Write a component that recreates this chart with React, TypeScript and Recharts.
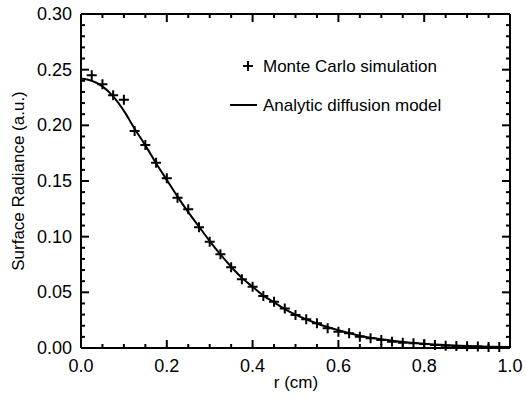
import React from "react";
import {
  ComposedChart,
  Line,
  Scatter,
  XAxis,
  YAxis,
  Legend,
} from "recharts";

// Monte Carlo points (r in cm, radiance in a.u.)
const mcR = [
  0.025, 0.05, 0.075, 0.1, 0.125, 0.15, 0.175, 0.2, 0.225, 0.25, 0.275, 0.3,
  0.325, 0.35, 0.375, 0.4, 0.425, 0.45, 0.475, 0.5, 0.525, 0.55, 0.575, 0.6,
  0.625, 0.65, 0.675, 0.7, 0.725, 0.75, 0.775, 0.8, 0.825, 0.85, 0.875, 0.9,
  0.925, 0.95, 0.975,
];
const mcVal = [
  0.245, 0.237, 0.227, 0.223, 0.195, 0.1824, 0.1665, 0.1525, 0.135, 0.1246,
  0.1084, 0.0955, 0.0842, 0.0725, 0.0617, 0.0551, 0.0467, 0.0416, 0.0355,
  0.0296, 0.0258, 0.0222, 0.0177, 0.0146, 0.0132, 0.0102, 0.0087, 0.0072,
  0.0057, 0.0048, 0.0042, 0.0036, 0.0027, 0.002, 0.0018, 0.0015, 0.0013,
  0.001, 0.001,
];

// analytic diffusion model curve
const modelR = [
  0, 0.025, 0.05, 0.075, 0.1, 0.125, 0.15, 0.175, 0.2, 0.225, 0.25, 0.275,
  0.3, 0.325, 0.35, 0.375, 0.4, 0.425, 0.45, 0.475, 0.5, 0.55, 0.6, 0.65, 0.7,
  0.75, 0.8, 0.85, 0.9, 0.95, 1.0,
];
const modelVal = [
  0.242, 0.24, 0.235, 0.226, 0.213, 0.197, 0.182, 0.166, 0.151, 0.136, 0.122,
  0.109, 0.096, 0.084, 0.073, 0.063, 0.055, 0.047, 0.041, 0.035, 0.03, 0.022,
  0.016, 0.011, 0.0078, 0.0055, 0.0038, 0.0026, 0.0018, 0.0012, 0.0008,
];

const xTicks = Array.from({ length: 21 }, (_, i) => +(i * 0.05).toFixed(2));
const yTicks = Array.from({ length: 31 }, (_, i) => +(i * 0.01).toFixed(2));

const mcData = mcR.map((r, i) => ({ r, v: mcVal[i] }));
const modelData = modelR.map((r, i) => ({ r, m: modelVal[i] }));

const isMult = (v: number, step: number) =>
  Math.abs(v / step - Math.round(v / step)) < 1e-6;

// inward tick marks on all four sides, placed through the chart scales
const tickData = [
  ...yTicks.map((v) => ({ r: 0, v, side: "l", major: isMult(v, 0.05) })),
  ...yTicks.map((v) => ({ r: 1, v, side: "r", major: isMult(v, 0.05) })),
  ...xTicks.map((r) => ({ r, v: 0, side: "b", major: isMult(r, 0.2) })),
  ...xTicks.map((r) => ({ r, v: 0.3, side: "t", major: isMult(r, 0.2) })),
];

const W = 526;
const H = 403;
const PL = 81;
const PR = 510;
const PT = 14;
const PB = 348;
const FONT = "'Liberation Sans', Arial, sans-serif";

const YTick = (props: any) => {
  const { y, payload } = props;
  if (!isMult(payload.value, 0.05)) return <g />;
  return (
    <text x={72} y={y} textAnchor="end" dominantBaseline="central" fontSize={18} fontFamily={FONT} fill="#000">
      {payload.value.toFixed(2)}
    </text>
  );
};

const XTick = (props: any) => {
  const { x, payload } = props;
  if (!isMult(payload.value, 0.2)) return <g />;
  return (
    <text x={x} y={366} textAnchor="middle" dominantBaseline="central" fontSize={18} fontFamily={FONT} fill="#000">
      {payload.value.toFixed(1)}
    </text>
  );
};

const TickShape = (props: any) => {
  const { cx, cy, payload } = props;
  if (cx == null || cy == null || !payload) return null;
  const len = payload.major ? 8 : 4;
  let d = "";
  if (payload.side === "l") d = `M${cx},${cy}H${cx + len}`;
  else if (payload.side === "r") d = `M${cx},${cy}H${cx - len}`;
  else if (payload.side === "b") d = `M${cx},${cy}V${cy - len}`;
  else d = `M${cx},${cy}V${cy + len}`;
  return <path d={d} stroke="#000" strokeWidth={2} fill="none" />;
};

const Plus = (props: any) => {
  const { cx, cy } = props;
  if (cx == null || cy == null) return null;
  return (
    <path
      d={`M${cx - 5},${cy}H${cx + 5}M${cx},${cy - 5}V${cy + 5}`}
      stroke="#000"
      strokeWidth={2}
      fill="none"
    />
  );
};

const YLabel = () => (
  <text
    x={18}
    y={181}
    transform="rotate(-90, 18, 181)"
    textAnchor="middle"
    dominantBaseline="central"
    fontSize={17}
    fontFamily={FONT}
    fill="#000"
  >
    Surface Radiance (a.u.)
  </text>
);

const XLabel = () => (
  <text x={296} y={382} textAnchor="middle" dominantBaseline="central" fontSize={17} fontFamily={FONT} fill="#000">
    r (cm)
  </text>
);

const LegendBox = () => (
  <svg width={300} height={70} style={{ display: "block" }}>
    <path d="M15,16H25M20,11V21" stroke="#000" strokeWidth={2} />
    <text x={35} y={16} dominantBaseline="central" fontSize={17} fontFamily={FONT} fill="#000">
      Monte Carlo simulation
    </text>
    <line x1={2} x2={29} y1={55} y2={55} stroke="#000" strokeWidth={2} />
    <text x={35} y={55} dominantBaseline="central" fontSize={17} fontFamily={FONT} fill="#000">
      Analytic diffusion model
    </text>
  </svg>
);

const frame = { stroke: "#000", strokeWidth: 2 };

export default function App() {
  return (
    <div style={{ position: "absolute", left: 0, top: 0, background: "#fff" }}>
      <ComposedChart width={W} height={H} margin={{ top: 0, right: 0, bottom: 0, left: 0 }}>
        <XAxis
          xAxisId="b"
          dataKey="r"
          type="number"
          domain={[0, 1]}
          ticks={xTicks}
          interval={0}
          height={H - PB}
          tickSize={0}
          tickLine={false}
          tick={<XTick />}
          axisLine={frame}
          label={<XLabel />}
        />
        <XAxis xAxisId="t" orientation="top" type="number" domain={[0, 1]} height={PT} tick={false} tickLine={false} axisLine={frame} />
        <YAxis
          yAxisId="l"
          type="number"
          domain={[0, 0.3]}
          ticks={yTicks}
          interval={0}
          width={PL}
          tickSize={0}
          tickLine={false}
          tick={<YTick />}
          axisLine={frame}
          label={<YLabel />}
        />
        <YAxis yAxisId="r" orientation="right" type="number" domain={[0, 0.3]} width={W - PR} tick={false} tickLine={false} axisLine={frame} />
        <Scatter
          xAxisId="b"
          yAxisId="l"
          data={tickData}
          dataKey="v"
          shape={<TickShape />}
          isAnimationActive={false}
          legendType="none"
        />
        <Line
          xAxisId="b"
          yAxisId="l"
          data={modelData}
          dataKey="m"
          type="monotone"
          stroke="#000"
          strokeWidth={2}
          dot={false}
          isAnimationActive={false}
          legendType="none"
        />
        <Scatter
          xAxisId="b"
          yAxisId="l"
          data={mcData}
          dataKey="v"
          shape={<Plus />}
          isAnimationActive={false}
          legendType="none"
        />
        <Legend
          layout="vertical"
          align="center"
          verticalAlign="middle"
          content={<LegendBox />}
          wrapperStyle={{ position: "absolute", left: 228, top: 50, width: 300, height: 70 }}
        />
      </ComposedChart>
    </div>
  );
}
